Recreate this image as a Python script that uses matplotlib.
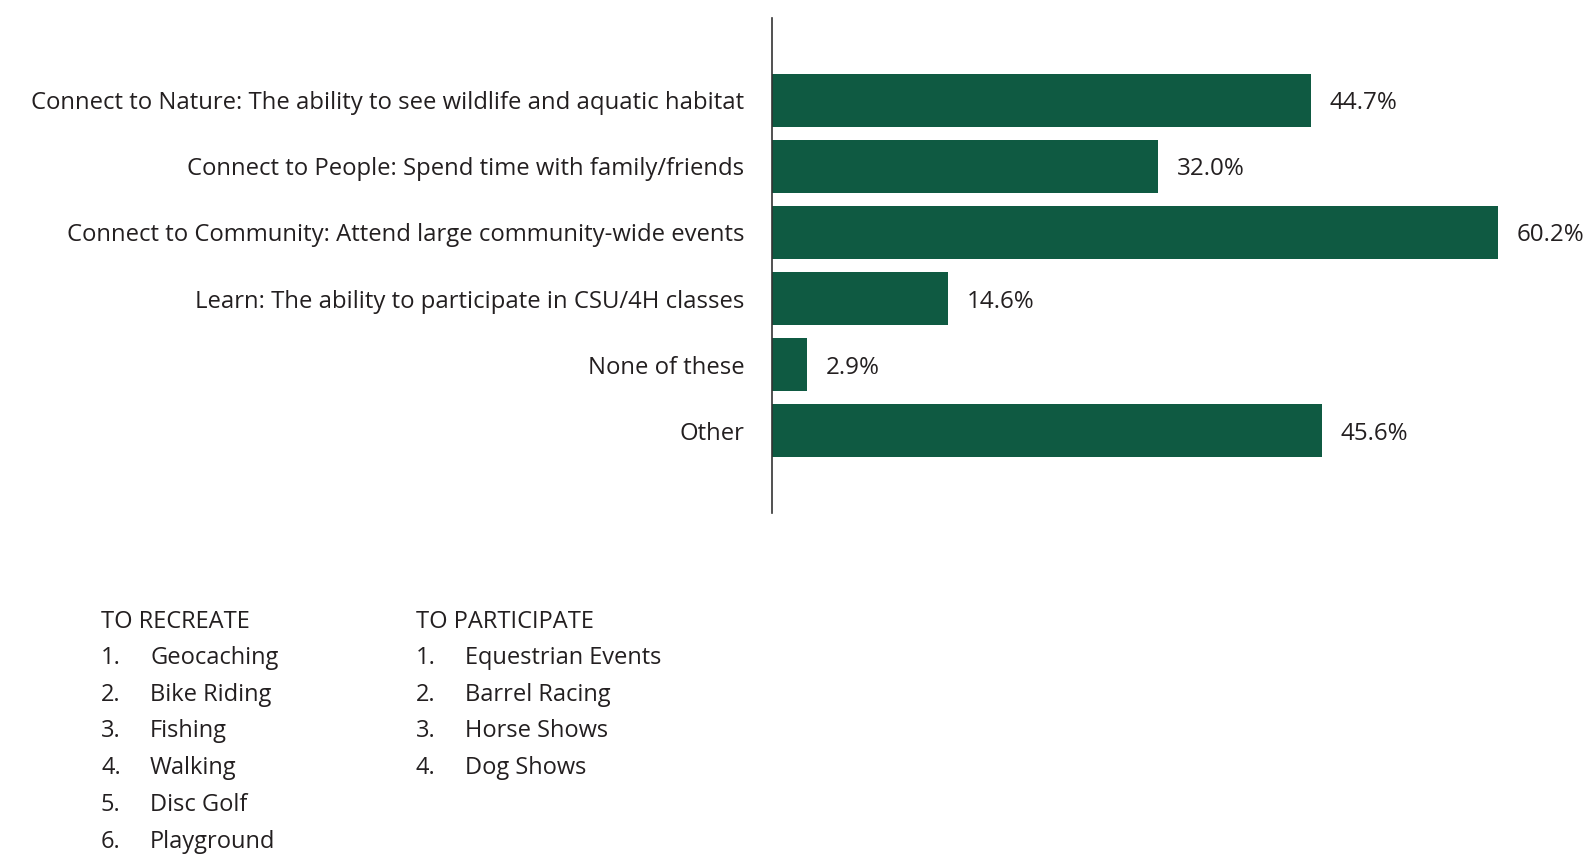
import matplotlib
matplotlib.use("Agg")
import matplotlib.pyplot as plt

categories = [
    "Connect to Nature: The ability to see wildlife and aquatic habitat",
    "Connect to People: Spend time with family/friends",
    "Connect to Community: Attend large community-wide events",
    "Learn: The ability to participate in CSU/4H classes",
    "None of these",
    "Other",
]
values = [44.7, 32.0, 60.2, 14.6, 2.9, 45.6]
value_labels = ["44.7%", "32.0%", "60.2%", "14.6%", "2.9%", "45.6%"]

recreate_title = "TO RECREATE"
recreate_items = ["Geocaching", "Bike Riding", "Fishing", "Walking", "Disc Golf", "Playground"]
participate_title = "TO PARTICIPATE"
participate_items = ["Equestrian Events", "Barrel Racing", "Horse Shows", "Dog Shows"]

BAR = "#0f5a42"
TXT = "#231f20"
FONT = "Open Sans"

W, H = 1591, 857
fig = plt.figure(figsize=(W / 100, H / 100), dpi=100)
plt.rcParams["font.family"] = [FONT, "DejaVu Sans"]

left = 772 / W
top = 1 - 18 / H
bottom = 1 - 513 / H
ax = fig.add_axes([left, bottom, 1 - left, top - bottom])
px_per_unit = 12.06
ax.set_xlim(0, (W - 772) / px_per_unit)
ax.set_ylim(6.24, -1.24)

y = list(range(len(categories)))
ax.barh(y, values, height=0.8, color=BAR, zorder=2)
for yi, v, lab in zip(y, values, value_labels):
    ax.annotate(lab, (v, yi), xytext=(13.5, 0), textcoords="offset points",
                va="center_baseline", ha="left", fontsize=17.4, color=TXT,
                annotation_clip=False)

ax.set_yticks(y)
ax.set_yticklabels(categories, fontsize=17.2, color=TXT)
for t in ax.get_yticklabels():
    t.set_va("center_baseline")
ax.tick_params(axis="y", length=0, pad=20)
ax.set_xticks([])
for s in ["top", "right", "bottom"]:
    ax.spines[s].set_visible(False)
ax.spines["left"].set_color("#333333")
ax.spines["left"].set_linewidth(1.2)

def fy(py):
    return 1 - py / H

fs = 17
fig.text(101 / W, fy(622), recreate_title, fontsize=fs, color=TXT, va="center", ha="left")
for i, item in enumerate(recreate_items):
    yy = fy(658 + i * 36.7)
    fig.text(101 / W, yy, f"{i+1}.", fontsize=fs, color=TXT, va="center", ha="left")
    fig.text(150 / W, yy, item, fontsize=fs, color=TXT, va="center", ha="left")

fig.text(416 / W, fy(622), participate_title, fontsize=fs, color=TXT, va="center", ha="left")
for i, item in enumerate(participate_items):
    yy = fy(658 + i * 36.7)
    fig.text(416 / W, yy, f"{i+1}.", fontsize=fs, color=TXT, va="center", ha="left")
    fig.text(465 / W, yy, item, fontsize=fs, color=TXT, va="center", ha="left")

fig.savefig("out.png", dpi=100, facecolor="white")
